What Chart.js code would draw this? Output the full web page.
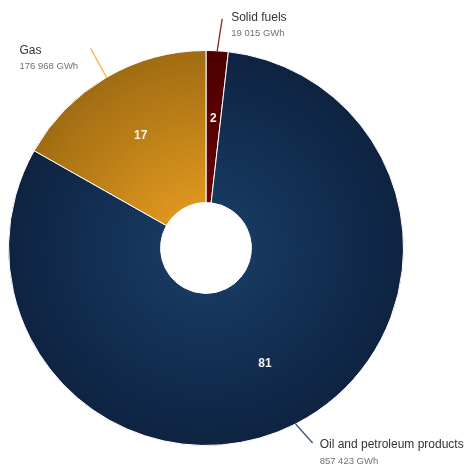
<!DOCTYPE html>
<html>
<head>
<meta charset="utf-8">
<script src="https://cdn.jsdelivr.net/npm/chart.js@4/dist/chart.umd.min.js"></script>
<style>
html,body{margin:0;padding:0;background:#fff;}
canvas{display:block;}
</style>
</head>
<body>
<canvas id="c" width="464" height="466"></canvas>
<script>
// Data
const categories = ["Solid fuels", "Oil and petroleum products", "Gas"];
const valuesGWh = [19015, 857423, 176968];
const valueLabels = ["19 015 GWh", "857 423 GWh", "176 968 GWh"];

// Style (colours of each slice: inner / outer of radial gradient)
const innerColors = ["#700303", "#1a3f69", "#f0a322"];
const outerColors = ["#4c0000", "#0e2341", "#a06c12"];
const connectorColors = ["#8e1f1f", "#3a5675", "#f4b851"];
// connector end offset from slice outer edge, and text anchor offset from connector end
const connectorOffsets = [[5, -32], [17, 19], [-16, -29]];
const textOffsets = [[9, -1], [7, 2], [-71, 2]];

const total = valuesGWh.reduce((a, b) => a + b, 0);

function sliceFill(ctx) {
  const i = ctx.dataIndex;
  const chart = ctx.chart;
  const ca = chart.chartArea;
  if (!ca || i === undefined) return innerColors[i || 0];
  const cx = (ca.left + ca.right) / 2;
  const cy = (ca.top + ca.bottom) / 2;
  const r = Math.min(ca.right - ca.left, ca.bottom - ca.top) / 2;
  const g = chart.ctx.createRadialGradient(cx, cy, 0, cx, cy, r);
  g.addColorStop(0, innerColors[i]);
  g.addColorStop(1, outerColors[i]);
  return g;
}

const labelPlugin = {
  id: 'sliceLabels',
  afterDatasetsDraw(chart) {
    const ctx = chart.ctx;
    const meta = chart.getDatasetMeta(0);
    meta.data.forEach((arc, i) => {
      const p = arc.getProps(['x', 'y', 'startAngle', 'endAngle', 'innerRadius', 'outerRadius'], true);
      const mid = (p.startAngle + p.endAngle) / 2;
      const rIn = p.outerRadius * 0.657;
      const pct = Math.round(valuesGWh[i] / total * 100);
      ctx.save();
      ctx.font = 'bold 12px "Liberation Sans", Arial, sans-serif';
      ctx.fillStyle = '#f4f4f4';
      ctx.textAlign = 'center';
      ctx.textBaseline = 'middle';
      ctx.fillText(String(pct), p.x + Math.cos(mid) * rIn, p.y + Math.sin(mid) * rIn);
      const ox = p.x + Math.cos(mid) * p.outerRadius;
      const oy = p.y + Math.sin(mid) * p.outerRadius;
      const ex = ox + connectorOffsets[i][0];
      const ey = oy + connectorOffsets[i][1];
      ctx.strokeStyle = connectorColors[i];
      ctx.lineWidth = 1.3;
      ctx.beginPath();
      ctx.moveTo(ox, oy);
      ctx.lineTo(ex, ey);
      ctx.stroke();
      const tx = ex + textOffsets[i][0];
      const ty = ey + textOffsets[i][1];
      ctx.textAlign = 'left';
      ctx.font = '12px "Liberation Sans", Arial, sans-serif';
      ctx.fillStyle = '#333333';
      ctx.fillText(categories[i], tx, ty);
      ctx.font = '9.5px "Liberation Sans", Arial, sans-serif';
      ctx.fillStyle = '#707070';
      ctx.fillText(valueLabels[i], tx, ty + 16);
      ctx.restore();
    });
  }
};

new Chart(document.getElementById('c'), {
  type: 'doughnut',
  data: {
    labels: categories,
    datasets: [{
      data: valuesGWh,
      backgroundColor: sliceFill,
      borderColor: '#ffffff',
      borderWidth: 1
    }]
  },
  options: {
    responsive: false,
    animation: false,
    cutout: '23%',
    layout: { padding: { left: 8, right: 60, top: 50, bottom: 20 } },
    plugins: { legend: { display: false }, tooltip: { enabled: false } }
  },
  plugins: [labelPlugin]
});
</script>
</body>
</html>
